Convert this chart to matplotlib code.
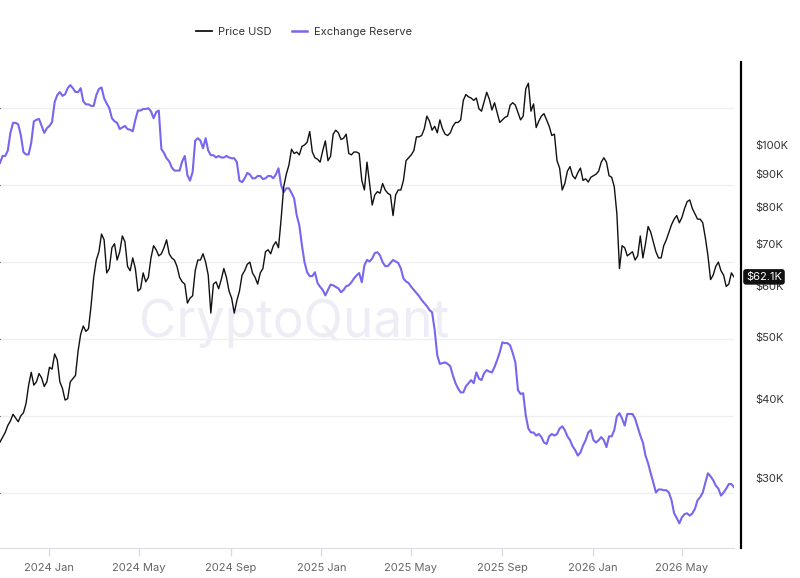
import pandas as pd
import matplotlib
matplotlib.use("Agg")
import matplotlib.pyplot as plt
from matplotlib.lines import Line2D
from matplotlib.ticker import FixedLocator, FuncFormatter, NullLocator
from matplotlib.transforms import blended_transform_factory

plt.rcParams["font.family"] = ["Inter", "DejaVu Sans"]

# samples every 3.5 days starting 2023-10-27
START_DATE = "2023-10-27"

price_usd_k = [
    34.2, 34.8, 35.4, 36.3, 36.9, 37.8, 37.3, 36.8, 37.6, 38.0,
    39.3, 42.0, 44.0, 42.0, 42.5, 43.8, 43.1, 41.8, 42.5, 44.8,
    44.5, 47.0, 46.0, 42.5, 41.5, 39.8, 40.0, 42.5, 43.0, 43.5,
    47.5, 50.5, 52.0, 51.0, 51.5, 56.0, 62.0, 66.0, 68.0, 72.5,
    71.0, 63.0, 64.0, 69.0, 70.0, 66.0, 68.0, 72.0, 70.5, 64.5,
    63.5, 66.5, 64.0, 59.0, 59.5, 63.0, 61.0, 62.0, 66.5, 69.5,
    68.5, 67.0, 67.5, 69.0, 71.0, 67.5, 66.5, 66.0, 64.5, 62.0,
    61.0, 60.5, 56.5, 57.5, 58.0, 63.5, 66.0, 66.0, 67.5, 65.5,
    62.5, 54.5, 60.5, 61.0, 59.5, 61.5, 64.0, 62.0, 59.0, 57.5,
    54.5, 57.0, 59.0, 62.5, 63.5, 65.0, 65.5, 63.0, 62.0, 60.5,
    63.0, 64.0, 68.0, 68.5, 67.5, 69.5, 70.5, 69.0, 76.5, 86.0,
    90.0, 93.0, 98.5, 97.0, 97.5, 96.5, 99.5, 100.0, 101.0, 105.0,
    97.5, 95.5, 95.0, 94.0, 98.0, 101.5, 94.5, 96.0, 104.0, 105.5,
    104.5, 102.0, 102.5, 104.0, 97.0, 96.5, 97.5, 97.5, 97.0, 88.0,
    85.0, 94.0, 87.0, 80.5, 83.5, 84.5, 84.0, 87.0, 85.0, 84.0,
    83.5, 77.5, 83.5, 85.0, 85.0, 88.0, 94.5, 95.5, 96.5, 98.0,
    103.0, 103.0, 103.5, 106.0, 111.0, 109.0, 105.5, 107.0, 104.5, 109.5,
    106.0, 104.0, 103.5, 104.5, 107.0, 108.5, 108.5, 109.5, 117.5, 120.0,
    119.0, 118.5, 117.5, 118.5, 114.0, 113.0, 117.0, 121.0, 118.0, 113.5,
    116.5, 112.5, 108.5, 109.5, 110.5, 111.0, 115.5, 116.5, 115.5, 112.5,
    109.5, 111.0, 122.5, 125.0, 113.0, 116.0, 106.5, 109.0, 111.0, 112.0,
    109.5, 107.0, 103.5, 104.0, 94.5, 92.0, 85.0, 87.0, 91.0, 92.5,
    89.5, 88.5, 90.5, 92.0, 88.0, 88.5, 87.5, 89.0, 89.5, 90.0,
    91.0, 94.0, 95.5, 94.0, 89.5, 89.0, 86.0, 78.0, 64.0, 69.5,
    69.0, 67.0, 67.5, 68.0, 66.0, 67.0, 72.0, 66.5, 70.0, 74.5,
    73.0, 70.5, 68.0, 66.5, 66.5, 69.5, 71.0, 73.0, 75.0, 76.5,
    77.5, 75.5, 77.0, 79.5, 81.5, 82.0, 79.5, 78.0, 76.5, 76.5,
    75.5, 71.5, 67.0, 61.5, 62.5, 64.5, 65.5, 63.5, 62.5, 60.0,
    60.5, 63.0, 62.1,
]

# exchange reserve, million BTC
exchange_reserve_m = [
    2.829, 2.838, 2.838, 2.845, 2.868, 2.881, 2.881, 2.879, 2.865, 2.843,
    2.840, 2.840, 2.855, 2.883, 2.885, 2.886, 2.877, 2.868, 2.874, 2.877,
    2.882, 2.908, 2.917, 2.921, 2.916, 2.918, 2.926, 2.930, 2.926, 2.921,
    2.921, 2.926, 2.909, 2.905, 2.905, 2.903, 2.903, 2.917, 2.925, 2.927,
    2.913, 2.906, 2.900, 2.887, 2.883, 2.881, 2.873, 2.875, 2.877, 2.873,
    2.872, 2.870, 2.885, 2.897, 2.897, 2.899, 2.899, 2.900, 2.896, 2.887,
    2.895, 2.897, 2.847, 2.842, 2.835, 2.831, 2.823, 2.819, 2.819, 2.819,
    2.831, 2.838, 2.813, 2.806, 2.817, 2.858, 2.861, 2.858, 2.848, 2.861,
    2.845, 2.839, 2.839, 2.836, 2.838, 2.836, 2.836, 2.838, 2.836, 2.835,
    2.835, 2.830, 2.806, 2.804, 2.809, 2.816, 2.814, 2.809, 2.809, 2.812,
    2.812, 2.808, 2.809, 2.812, 2.812, 2.809, 2.814, 2.822, 2.800, 2.791,
    2.796, 2.796, 2.790, 2.783, 2.761, 2.748, 2.722, 2.700, 2.687, 2.682,
    2.682, 2.687, 2.673, 2.668, 2.664, 2.657, 2.664, 2.671, 2.670, 2.668,
    2.666, 2.661, 2.664, 2.669, 2.670, 2.674, 2.679, 2.683, 2.686, 2.674,
    2.696, 2.703, 2.701, 2.705, 2.712, 2.713, 2.709, 2.700, 2.695, 2.695,
    2.699, 2.703, 2.701, 2.699, 2.692, 2.679, 2.675, 2.673, 2.668, 2.664,
    2.660, 2.656, 2.651, 2.647, 2.643, 2.638, 2.635, 2.612, 2.579, 2.568,
    2.569, 2.570, 2.568, 2.565, 2.553, 2.543, 2.536, 2.531, 2.531, 2.539,
    2.543, 2.547, 2.543, 2.557, 2.549, 2.547, 2.556, 2.560, 2.558, 2.557,
    2.564, 2.573, 2.583, 2.596, 2.595, 2.595, 2.592, 2.582, 2.570, 2.534,
    2.529, 2.530, 2.501, 2.484, 2.479, 2.479, 2.475, 2.477, 2.473, 2.466,
    2.464, 2.474, 2.477, 2.475, 2.477, 2.484, 2.487, 2.482, 2.474, 2.469,
    2.461, 2.456, 2.449, 2.453, 2.462, 2.469, 2.479, 2.482, 2.469, 2.466,
    2.469, 2.473, 2.469, 2.460, 2.474, 2.474, 2.482, 2.500, 2.504, 2.497,
    2.488, 2.503, 2.503, 2.503, 2.497, 2.486, 2.475, 2.466, 2.449, 2.439,
    2.426, 2.414, 2.401, 2.405, 2.405, 2.404, 2.404, 2.401, 2.391, 2.374,
    2.368, 2.361, 2.369, 2.373, 2.374, 2.371, 2.374, 2.380, 2.391, 2.395,
    2.401, 2.414, 2.426, 2.422, 2.417, 2.410, 2.406, 2.397, 2.401, 2.406,
    2.412, 2.412, 2.408,
]

price_ticks = [30, 40, 50, 60, 70, 80, 90, 100]
reserve_grid = [2.4, 2.5, 2.6, 2.7, 2.8, 2.9]
month_ticks = ["2024-01-01", "2024-05-01", "2024-09-01", "2025-01-01",
               "2025-05-01", "2025-09-01", "2026-01-01", "2026-05-01"]
last_price = 62.1

PURPLE = "#7766ee"
dates = pd.date_range(START_DATE, periods=len(price_usd_k), freq="84h")

fig = plt.figure(figsize=(8, 5.78), dpi=100)
ax = fig.add_axes([0, 30 / 578, 734 / 800, 486 / 578])
ax.set_facecolor("none")

# reserve on hidden left axis, its grid is the one shown
ax.plot(dates, exchange_reserve_m, color=PURPLE, lw=1.5, zorder=2)
ax.set_ylim(2.329, 2.960)
ax.yaxis.set_major_locator(FixedLocator(reserve_grid))
ax.tick_params(axis="y", left=False, labelleft=False)
ax.grid(axis="y", color="#efeff2", lw=0.9)
ax.set_xlim(dates[0], dates[-1])

ax.set_xticks(pd.to_datetime(month_ticks))
ax.set_xticklabels([pd.Timestamp(d).strftime("%Y %b") for d in month_ticks])
ax.tick_params(axis="x", length=6, width=0.9, color="#d9d9e0",
               labelcolor="#666666", labelsize=8, pad=5)
for side in ["left", "top", "right"]:
    ax.spines[side].set_visible(False)
ax.spines["bottom"].set_color("#dcdce4")

ax.text(0.3675, 1 - 337 / 578, "CryptoQuant", transform=fig.transFigure,
        fontsize=37, color="#eeedf5", ha="center", va="baseline", zorder=0)

# price on log right axis
ax2 = ax.twinx()
ax2.plot(dates, price_usd_k, color="#111111", lw=1.0, zorder=3)
ax2.set_yscale("log")
ax2.set_ylim(23.32, 134.97)
ax2.yaxis.set_major_locator(FixedLocator(price_ticks))
ax2.yaxis.set_minor_locator(NullLocator())
ax2.yaxis.set_major_formatter(FuncFormatter(lambda v, p: f"${v:.0f}K"))
ax2.tick_params(axis="y", length=0, labelsize=8, labelcolor="#333333", pad=10)
for side in ["left", "top", "bottom"]:
    ax2.spines[side].set_visible(False)
ax2.spines["right"].set_position(("outward", 5))
ax2.spines["right"].set_color("black")
ax2.spines["right"].set_linewidth(1.6)

trans = blended_transform_factory(ax2.transAxes, ax2.transData)
ax2.text(746 / 734, last_price, f"${last_price}K", transform=trans,
         color="white", fontsize=8, ha="left", va="center", clip_on=False,
         bbox=dict(boxstyle="round,pad=0.25", fc="#111111", ec="none"))

handles = [Line2D([], [], color="#111111", lw=1.3),
           Line2D([], [], color=PURPLE, lw=1.8)]
fig.legend(handles, ["Price USD", "Exchange Reserve"], loc="center",
           bbox_to_anchor=(0.38, 1 - 32 / 578), ncol=2, frameon=False,
           fontsize=8, handlelength=1.4, handletextpad=0.6, columnspacing=1.8,
           labelcolor="#333333")

fig.savefig("out.png", dpi=100)
